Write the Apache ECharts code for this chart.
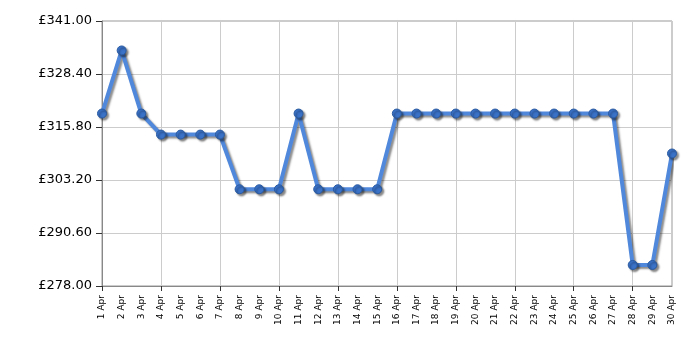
<!DOCTYPE html>
<html><head><meta charset="utf-8">
<script src="https://cdn.jsdelivr.net/npm/echarts@6/dist/echarts.min.js"></script>
<style>html,body{margin:0;padding:0;background:#fff}#c{width:700px;height:350px}</style>
</head><body><div id="c"></div>
<script>
const categories = ['1 Apr','2 Apr','3 Apr','4 Apr','5 Apr','6 Apr','7 Apr','8 Apr','9 Apr','10 Apr','11 Apr','12 Apr','13 Apr','14 Apr','15 Apr','16 Apr','17 Apr','18 Apr','19 Apr','20 Apr','21 Apr','22 Apr','23 Apr','24 Apr','25 Apr','26 Apr','27 Apr','28 Apr','29 Apr','30 Apr'];
const prices = [319,334,319,314,314,314,314,301,301,301,319,301,301,301,301,319,319,319,319,319,319,319,319,319,319,319,319,283,283,309.5];
const yMin = 278, yMax = 341, yStep = 12.6;

const chart = echarts.init(document.getElementById('c'), null, {renderer:'canvas'});
const every3 = (i) => i % 3 === 0;
chart.setOption({
  animation:false,
  grid:{left:102,right:28,top:21,bottom:64,show:true,borderColor:'#999',borderWidth:1,backgroundColor:'transparent'},
  xAxis:{
    type:'category', data:categories, boundaryGap:false,
    axisLine:{lineStyle:{color:'#888'}},
    axisTick:{show:true,interval:every3,length:5,lineStyle:{color:'#333'}},
    axisLabel:{interval:0,rotate:90,fontFamily:'DejaVu Sans',fontSize:9,color:'#000',margin:9},
    splitLine:{show:true,interval:every3,lineStyle:{color:'#ccc'}}
  },
  yAxis:{
    type:'value', min:yMin, max:yMax, interval:yStep,
    axisLine:{show:true,lineStyle:{color:'#888'}},
    axisTick:{show:true,length:6,lineStyle:{color:'#333'}},
    axisLabel:{fontFamily:'DejaVu Sans',fontSize:13,color:'#000',margin:10,
      formatter:(v)=>'£'+v.toFixed(2)},
    splitLine:{show:true,lineStyle:{color:'#ccc'}}
  },
  series:[{
    type:'line', data:prices, symbol:'circle', symbolSize:9,
    lineStyle:{color:'#5088dc',width:4,shadowColor:'rgba(0,0,0,0.45)',shadowBlur:2,shadowOffsetX:2,shadowOffsetY:2},
    itemStyle:{color:'#3a72c8',borderColor:'#2a5aa0',borderWidth:1,shadowColor:'rgba(0,0,0,0.45)',shadowBlur:2,shadowOffsetX:2,shadowOffsetY:2}
  }]
});
</script></body></html>
